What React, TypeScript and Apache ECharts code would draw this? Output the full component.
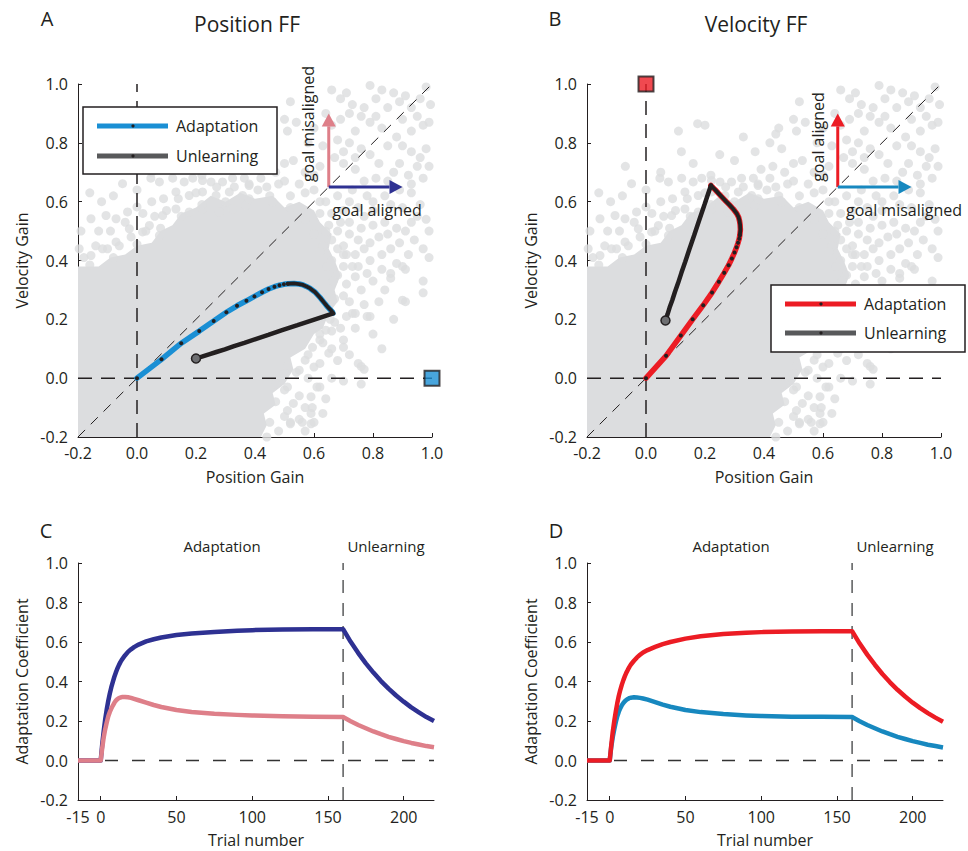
import React, { useEffect, useRef } from "react";
import * as echarts from "echarts";

const FONT = '"Open Sans", sans-serif';
const INK = "#231f20";
const CLOUD = "#dcdddf";

// ---------- data ----------
const gainTicks = [-0.2, 0, 0.2, 0.4, 0.6, 0.8, 1.0];
const coefTicks = [-0.2, 0, 0.2, 0.4, 0.6, 0.8, 1.0];
const trialTicks = [-15, 0, 50, 100, 150, 200];

const trials = [-15, 0, 1, 2, 3, 4, 5, 6, 7, 8, 9, 10, 11, 12, 13, 14, 16, 18, 20, 22, 25, 30, 35, 40, 50, 60, 75, 90, 100, 120, 140, 160, 165, 170, 175, 180, 185, 190, 195, 200, 205, 210, 215, 220];

// Position FF (panel C): goal-aligned (position gain) and goal-misaligned (velocity gain)
const posFFAligned = [0, 0, 0.083, 0.15, 0.211, 0.26, 0.303, 0.339, 0.371, 0.398, 0.424, 0.446, 0.466, 0.483, 0.498, 0.511, 0.532, 0.55, 0.563, 0.574, 0.587, 0.603, 0.614, 0.623, 0.635, 0.643, 0.651, 0.657, 0.66, 0.663, 0.664, 0.665, 0.601, 0.544, 0.492, 0.445, 0.402, 0.364, 0.329, 0.298, 0.269, 0.244, 0.22, 0.2];
const posFFMisaligned = [0, 0, 0.064, 0.119, 0.16, 0.194, 0.224, 0.246, 0.263, 0.278, 0.292, 0.303, 0.311, 0.316, 0.319, 0.321, 0.322, 0.32, 0.317, 0.312, 0.305, 0.293, 0.281, 0.271, 0.256, 0.246, 0.237, 0.231, 0.228, 0.224, 0.221, 0.22, 0.199, 0.18, 0.163, 0.147, 0.133, 0.12, 0.109, 0.098, 0.089, 0.081, 0.073, 0.067];

// Velocity FF (panel D): goal-aligned (velocity gain) and goal-misaligned (position gain)
const velFFAligned = [0, 0, 0.076, 0.145, 0.2, 0.248, 0.291, 0.328, 0.358, 0.384, 0.407, 0.427, 0.445, 0.46, 0.474, 0.486, 0.505, 0.522, 0.535, 0.547, 0.559, 0.575, 0.589, 0.6, 0.617, 0.629, 0.64, 0.647, 0.65, 0.653, 0.654, 0.655, 0.592, 0.536, 0.485, 0.438, 0.396, 0.358, 0.324, 0.293, 0.265, 0.24, 0.217, 0.196];
const velFFMisaligned = [0, 0, 0.068, 0.118, 0.158, 0.194, 0.224, 0.247, 0.265, 0.28, 0.291, 0.3, 0.307, 0.312, 0.316, 0.318, 0.32, 0.319, 0.317, 0.314, 0.308, 0.296, 0.283, 0.272, 0.256, 0.245, 0.235, 0.228, 0.225, 0.222, 0.221, 0.22, 0.199, 0.18, 0.163, 0.147, 0.133, 0.12, 0.109, 0.098, 0.089, 0.08, 0.073, 0.066];

const adaptEnd = 160;
const dottedUntil = 14;

// dense core of the individual-subject cloud (position gain, velocity gain)
const cloudCore = [
  [-0.2, -0.2], [0.42, -0.2], [0.44, -0.16], [0.43, -0.12], [0.47, -0.09], [0.46, -0.05], [0.5, -0.02], [0.53, 0.03],
  [0.52, 0.07], [0.57, 0.1], [0.6, 0.15], [0.63, 0.17], [0.65, 0.22], [0.68, 0.26], [0.67, 0.3], [0.69, 0.35],
  [0.67, 0.4], [0.65, 0.44], [0.66, 0.49], [0.62, 0.53], [0.6, 0.57], [0.55, 0.6], [0.5, 0.58], [0.46, 0.62],
  [0.4, 0.61], [0.35, 0.63], [0.3, 0.6], [0.25, 0.62], [0.2, 0.58], [0.15, 0.56], [0.12, 0.52], [0.08, 0.5],
  [0.05, 0.46], [0.0, 0.45], [-0.04, 0.42], [-0.09, 0.41], [-0.13, 0.38], [-0.2, 0.38],
];

// individual subjects outside the dense core
const cloudPoints = [
  [0.66, 0.98], [0.69, 0.95], [0.79, 0.995], [0.83, 0.98], [0.98, 0.99], [0.995, 0.93], [0.97, 0.86], [0.93, 0.92],
  [0.95, 0.89], [0.89, 0.94], [0.85, 0.92], [0.77, 0.92], [0.76, 0.89], [0.79, 0.87], [0.83, 0.85], [0.74, 0.84],
  [0.69, 0.88], [0.66, 0.86], [0.68, 0.81], [0.72, 0.8], [0.76, 0.78], [0.79, 0.76], [0.85, 0.79], [0.88, 0.82],
  [0.93, 0.84], [0.98, 0.78], [0.96, 0.75], [0.93, 0.77], [0.89, 0.73], [0.87, 0.7], [0.92, 0.69], [0.97, 0.68],
  [0.85, 0.67], [0.81, 0.68], [0.77, 0.67], [0.74, 0.71], [0.7, 0.73], [0.67, 0.75], [0.62, 0.72], [0.6, 0.69],
  [0.57, 0.7], [0.51, 0.84], [0.5, 0.88], [0.54, 0.87], [0.52, 0.94], [0.44, 0.83], [0.46, 0.78], [0.5, 0.73],
  [0.53, 0.74], [0.43, 0.72],
  [0.68, 0.62], [0.72, 0.6], [0.78, 0.62], [0.93, 0.63], [0.96, 0.59], [0.98, 0.54], [0.93, 0.53], [0.88, 0.51],
  [0.85, 0.49], [0.8, 0.52], [0.76, 0.51], [0.72, 0.49], [0.69, 0.53], [0.79, 0.46], [0.89, 0.46], [0.94, 0.47],
  [0.97, 0.44], [0.77, 0.44], [0.74, 0.42], [0.83, 0.42], [0.86, 0.44], [0.7, 0.45], [0.66, 0.47], [0.79, 0.4],
  [0.73, 0.38], [0.71, 0.42], [0.77, 0.55], [0.8, 0.57], [0.86, 0.59], [0.73, 0.64], [0.99, 0.41], [0.97, 0.33],
  [0.97, 0.29], [0.91, 0.37], [0.91, 0.26], [0.86, 0.34], [0.84, 0.3], [0.79, 0.21], [0.83, 0.1], [0.76, 0.04],
  [0.76, -0.02], [0.73, 0.22], [0.7, 0.13], [0.66, 0.16], [0.63, 0.12], [0.65, 0.085], [0.62, -0.03], [0.59, -0.12],
  [0.56, -0.15], [0.6, -0.15], [0.52, -0.15], [0.51, 0.04], [0.44, -0.2], [0.86, 0.356], [0.9, 0.38], [0.9, 0.265],
  [0.78, 0.21], [0.74, 0.22], [0.7, 0.105], [0.75, 0.05], [0.77, 0.03], [0.67, 0.19], [0.64, 0.163], [0.62, 0.13],
  [0.595, 0.105], [0.6, 0.038], [0.61, -0.03], [0.59, -0.063], [0.57, -0.1], [0.594, -0.1], [0.53, -0.086], [0.51, -0.11],
  [0.55, -0.14], [0.52, -0.155], [0.59, -0.155], [0.5, 0.016], [0.55, 0.027], [0.57, 0.061], [0.51, -0.03], [0.47, -0.02],
  [0.74, 0.345], [0.76, 0.3], [0.7, 0.28], [0.78, 0.356],
  [-0.049, 0.661], [0.047, 0.68], [0.076, 0.667], [0.121, 0.68], [0.16, 0.667], [0.189, 0.68], [0.222, 0.672], [0.251, 0.667],
  [0.29, 0.667], [0.324, 0.68], [0.364, 0.68], [0.38, 0.655], [0.132, 0.633], [0.177, 0.621], [0.222, 0.633], [0.268, 0.621],
  [0.313, 0.633], [0.358, 0.621], [0.09, 0.61], [0.05, 0.6], [0.0, 0.582], [-0.032, 0.565], [-0.071, 0.542], [-0.156, 0.542],
  [-0.105, 0.553], [0.087, 0.553], [0.132, 0.575], [0.177, 0.565], [0.222, 0.575], [0.279, 0.565], [0.324, 0.575], [0.369, 0.587],
  [0.019, 0.497], [-0.026, 0.508], [0.042, 0.519], [0.076, 0.485], [-0.196, 0.44], [-0.156, 0.417], [-0.117, 0.44], [-0.071, 0.463],
  [0.41, 0.64], [0.45, 0.62], [0.48, 0.66], [0.42, 0.68], [0.47, 0.7], [0.55, 0.66], [0.6, 0.64], [0.64, 0.6],
  [0.62, 0.56], [0.65, 0.52], [0.63, 0.45], [0.66, 0.4], [0.68, 0.35],
  [0.45, -0.15], [0.47, -0.08], [0.5, -0.04], [0.54, 0.02], [0.58, 0.08], [0.62, 0.15], [0.655, 0.2], [0.67, 0.27],
  [0.665, 0.33], [0.645, 0.38], [0.62, 0.43], [0.6, 0.49], [0.57, 0.54], [0.52, 0.58], [0.46, 0.6], [0.38, 0.61],
  [0.3, 0.6], [0.22, 0.59], [0.15, 0.55], [0.08, 0.51], [0.0, 0.455], [-0.08, 0.41], [-0.16, 0.385],
  [0.71, 0.97], [0.73, 0.93], [0.81, 0.95], [0.87, 0.97], [0.91, 0.96], [0.96, 0.95], [0.99, 0.87], [0.9, 0.88],
  [0.81, 0.89], [0.72, 0.9], [0.64, 0.9], [0.6, 0.85], [0.58, 0.8], [0.63, 0.79], [0.7, 0.77], [0.74, 0.75],
  [0.82, 0.73], [0.9, 0.79], [0.95, 0.72], [0.99, 0.72], [0.93, 0.66], [0.89, 0.64], [0.84, 0.62], [0.8, 0.6],
  [0.75, 0.58], [0.7, 0.57], [0.66, 0.56], [0.9, 0.58], [0.95, 0.55], [0.99, 0.5], [0.91, 0.5], [0.84, 0.53],
  [0.82, 0.48], [0.75, 0.47], [0.72, 0.53], [0.68, 0.5], [0.92, 0.42], [0.88, 0.39], [0.83, 0.37], [0.8, 0.33],
  [0.75, 0.38], [0.71, 0.32], [0.72, 0.26], [0.77, 0.25], [0.82, 0.26], [0.87, 0.2], [0.8, 0.15], [0.74, 0.17],
  [0.72, 0.08], [0.68, 0.06], [0.66, 0.0], [0.7, -0.01], [0.64, -0.07], [0.63, -0.12], [0.57, -0.18], [0.48, -0.18],
  [0.5, -0.13], [0.55, -0.06], [0.58, 0.0], [0.62, 0.05], [0.66, 0.1], [0.69, 0.17], [0.71, 0.21], [0.7, 0.38],
  [0.7, 0.42], [0.68, 0.44], [0.64, 0.5], [0.62, 0.6], [0.57, 0.63], [0.52, 0.62], [0.5, 0.67], [0.44, 0.65],
  [0.38, 0.66], [0.33, 0.65], [0.27, 0.65], [0.2, 0.63], [0.14, 0.61], [0.1, 0.57], [0.06, 0.55], [0.03, 0.5],
  [-0.02, 0.48], [-0.06, 0.45], [-0.1, 0.44], [-0.14, 0.45], [-0.18, 0.41], [-0.19, 0.5], [-0.13, 0.5], [-0.09, 0.5],
  [-0.04, 0.53], [0.02, 0.56], [-0.12, 0.6], [-0.16, 0.63], [-0.08, 0.62], [0.0, 0.64],
  [-0.07, 0.72], [0.16, 0.73], [0.175, 0.865], [0.2, 0.86], [0.11, 0.84], [0.33, 0.82], [0.12, 0.77], [0.37, 0.77],
  [0.42, 0.8], [0.45, 0.85], [0.39, 0.71], [0.3, 0.74], [0.25, 0.76], [0.05, 0.7], [0.22, 0.69],
];

const arrowOrigin = [0.65, 0.65];
const arrowLength = 0.25;
const targetA = [1.0, 0.0];
const targetB = [0.0, 1.0];

// ---------- colors ----------
const NAVY = "#2e3192";
const PINK = "#de7f89";
const BLUE_A = "#1a8fd4";
const BLUE_D = "#1788bf";
const RED = "#ec1c24";
const UNLEARN = "#231f20";

// ---------- helpers ----------
const fmt1 = (v: number) => (Math.abs(v) < 1e-9 ? 0 : v).toFixed(1);

function gainAxis(gridIndex: number, name: string, isX: boolean) {
  return {
    type: "value",
    gridIndex,
    min: -0.2,
    max: 1.0,
    interval: 0.2,
    name,
    nameLocation: "middle",
    nameGap: isX ? 32 : 48,
    nameTextStyle: { fontFamily: FONT, fontSize: 16, color: INK },
    axisLine: { show: true, onZero: false, lineStyle: { color: INK, width: 1 } },
    axisTick: { show: true, inside: true, length: 4, lineStyle: { color: INK } },
    axisLabel: {
      fontFamily: FONT, fontSize: 16, color: INK, margin: isX ? 8 : 10,
      formatter: fmt1, customValues: gainTicks,
    },
    splitLine: { show: false },
  };
}

function trialAxis(gridIndex: number) {
  return {
    type: "value",
    gridIndex,
    min: -15,
    max: 220,
    interval: 5,
    name: "Trial number",
    nameLocation: "middle",
    nameGap: 32,
    nameTextStyle: { fontFamily: FONT, fontSize: 16, color: INK },
    axisLine: { show: true, onZero: false, lineStyle: { color: INK, width: 1 } },
    axisTick: { show: true, inside: true, length: 4, lineStyle: { color: INK }, customValues: trialTicks },
    axisLabel: { fontFamily: FONT, fontSize: 16, color: INK, margin: 9, customValues: trialTicks },
    splitLine: { show: false },
  };
}

function coefAxis(gridIndex: number) {
  return {
    type: "value",
    gridIndex,
    min: -0.2,
    max: 1.0,
    interval: 0.2,
    name: "Adaptation Coefficient",
    nameLocation: "middle",
    nameGap: 48,
    nameTextStyle: { fontFamily: FONT, fontSize: 16, color: INK },
    axisLine: { show: true, onZero: false, lineStyle: { color: INK, width: 1 } },
    axisTick: { show: true, inside: true, length: 4, lineStyle: { color: INK } },
    axisLabel: { fontFamily: FONT, fontSize: 16, color: INK, margin: 10, formatter: fmt1, customValues: coefTicks },
    splitLine: { show: false },
  };
}

function dashed(idx: number, data: number[][], color: string, width: number, dash: number[], z = 3) {
  return {
    type: "line", xAxisIndex: idx, yAxisIndex: idx, data, symbol: "none", silent: true, z,
    lineStyle: { color, width, type: dash },
  };
}

function cloudSeries(idx: number) {
  return [
    {
      type: "custom", name: "cloud core", xAxisIndex: idx, yAxisIndex: idx, silent: true, z: 2,
      data: [[0, 0]],
      renderItem: (_p: any, api: any) => ({
        type: "polygon",
        shape: { points: cloudCore.map((p) => api.coord(p)) },
        style: { fill: CLOUD },
      }),
    },
    {
      type: "scatter", name: "subjects", xAxisIndex: idx, yAxisIndex: idx, silent: true, z: 2,
      symbolSize: 9, data: cloudPoints, itemStyle: { color: CLOUD },
    },
  ];
}

function trajectorySeries(idx: number, xs: number[], ys: number[], color: string) {
  const adapt: any[] = [];
  const dense: number[][] = [];
  const unlearn: any[] = [];
  trials.forEach((t, i) => {
    const v = [xs[i], ys[i]];
    if (t >= 0 && t <= adaptEnd) adapt.push({ value: v, symbol: t <= dottedUntil ? "circle" : "none" });
    if (t >= dottedUntil && t <= adaptEnd) dense.push(v);
    if (t >= adaptEnd) unlearn.push({ value: v, symbol: "none" });
  });
  const last = unlearn[unlearn.length - 1];
  last.symbol = "circle";
  last.symbolSize = 9;
  last.itemStyle = { color: "#6d6e71", borderColor: INK, borderWidth: 1.5 };
  return [
    {
      type: "line", name: "Adaptation", xAxisIndex: idx, yAxisIndex: idx, data: adapt, z: 5,
      showAllSymbol: true, symbolSize: 4, itemStyle: { color: INK },
      lineStyle: { color, width: 5.5, cap: "round" },
    },
    {
      type: "line", name: "Adaptation (late)", xAxisIndex: idx, yAxisIndex: idx, data: dense, z: 6,
      symbol: "none", lineStyle: { color: INK, width: 3.8, cap: "round", join: "round" },
    },
    {
      type: "line", name: "Unlearning", xAxisIndex: idx, yAxisIndex: idx, data: unlearn, z: 6,
      symbolSize: 9, lineStyle: { color: UNLEARN, width: 4.5, cap: "round" },
    },
  ];
}

function arrowSeries(idx: number, upColor: string, rightColor: string) {
  return {
    type: "custom", name: "arrows", xAxisIndex: idx, yAxisIndex: idx, silent: true, z: 7,
    data: [[arrowOrigin[0], arrowOrigin[1]]],
    renderItem: (_p: any, api: any) => {
      const o = api.coord(arrowOrigin);
      const up = api.coord([arrowOrigin[0], arrowOrigin[1] + arrowLength]);
      const rt = api.coord([arrowOrigin[0] + arrowLength, arrowOrigin[1]]);
      const head = 13;
      const hw = 7;
      return {
        type: "group",
        children: [
          { type: "line", shape: { x1: o[0], y1: o[1], x2: up[0], y2: up[1] + head }, style: { stroke: upColor, lineWidth: 3 } },
          { type: "polygon", shape: { points: [[up[0], up[1]], [up[0] - hw, up[1] + head], [up[0] + hw, up[1] + head]] }, style: { fill: upColor } },
          { type: "line", shape: { x1: o[0], y1: o[1], x2: rt[0] - head, y2: rt[1] }, style: { stroke: rightColor, lineWidth: 3 } },
          { type: "polygon", shape: { points: [[rt[0], rt[1]], [rt[0] - head, rt[1] - hw], [rt[0] - head, rt[1] + hw]] }, style: { fill: rightColor } },
        ],
      };
    },
  };
}

function targetSeries(idx: number, pt: number[], color: string) {
  return {
    type: "scatter", name: "target", xAxisIndex: idx, yAxisIndex: idx, silent: true, z: 8, clip: false,
    symbol: "rect", symbolSize: 15, data: [pt],
    itemStyle: { color, borderColor: INK, borderWidth: 2 },
  };
}

function curveSeries(idx: number, values: number[], color: string, name: string, z: number) {
  return {
    type: "line", name, xAxisIndex: idx, yAxisIndex: idx, z,
    data: trials.map((t, i) => [t, values[i]]),
    symbol: "none", lineStyle: { color, width: 4.5, join: "round" },
  };
}

function txt(x: number, y: number, text: string, size: number, extra: any = {}) {
  return {
    type: "text", x, y, z: 100, silent: true,
    style: { text, fontFamily: FONT, fontSize: size, fill: INK, align: "center", verticalAlign: "middle" },
    ...extra,
  };
}

function legendBox(x: number, y: number, color: string, gap: number) {
  const y1 = y + 19;
  const y2 = y + 19 + gap;
  return [
    { type: "rect", z: 100, shape: { x, y, width: 194, height: 67 }, style: { fill: "#fff", stroke: INK, lineWidth: 1.5 } },
    { type: "line", z: 101, shape: { x1: x + 14, y1, x2: x + 85, y2: y1 }, style: { stroke: color, lineWidth: 5 } },
    { type: "circle", z: 102, shape: { cx: x + 50, cy: y1, r: 1.6 }, style: { fill: INK } },
    { type: "text", z: 102, x: x + 93, y: y1, style: { text: "Adaptation", fontFamily: FONT, fontSize: 16, fill: INK, verticalAlign: "middle" } },
    { type: "line", z: 101, shape: { x1: x + 14, y1: y2, x2: x + 85, y2 }, style: { stroke: "#58595b", lineWidth: 5 } },
    { type: "circle", z: 102, shape: { cx: x + 50, cy: y2, r: 1.6 }, style: { fill: INK } },
    { type: "text", z: 102, x: x + 93, y: y2, style: { text: "Unlearning", fontFamily: FONT, fontSize: 16, fill: INK, verticalAlign: "middle" } },
  ];
}

const option: any = {
  animation: false,
  backgroundColor: "#ffffff",
  textStyle: { fontFamily: FONT },
  grid: [
    { left: 78, top: 84, width: 354, height: 353 },
    { left: 587, top: 84, width: 354, height: 353 },
    { left: 78, top: 563, width: 356, height: 237 },
    { left: 587, top: 563, width: 356, height: 237 },
  ],
  xAxis: [gainAxis(0, "Position Gain", true), gainAxis(1, "Position Gain", true), trialAxis(2), trialAxis(3)],
  yAxis: [gainAxis(0, "Velocity Gain", false), gainAxis(1, "Velocity Gain", false), coefAxis(2), coefAxis(3)],
  series: [
    // Panel A
    ...cloudSeries(0),
    dashed(0, [[-0.2, -0.2], [1, 1]], INK, 1, [10, 8]),
    dashed(0, [[-0.2, 0], [1, 0]], INK, 1.5, [14, 9]),
    dashed(0, [[0, -0.2], [0, 1]], INK, 1.5, [14, 9]),
    ...trajectorySeries(0, posFFAligned, posFFMisaligned, BLUE_A),
    arrowSeries(0, PINK, NAVY),
    targetSeries(0, targetA, BLUE_A),
    // Panel B
    ...cloudSeries(1),
    dashed(1, [[-0.2, -0.2], [1, 1]], INK, 1, [10, 8]),
    dashed(1, [[-0.2, 0], [1, 0]], INK, 1.5, [14, 9]),
    dashed(1, [[0, -0.2], [0, 1]], INK, 1.5, [14, 9]),
    ...trajectorySeries(1, velFFMisaligned, velFFAligned, RED),
    arrowSeries(1, RED, BLUE_D),
    targetSeries(1, targetB, RED),
    // Panel C
    dashed(2, [[-15, 0], [220, 0]], "#333333", 1.3, [13, 14], 1),
    dashed(2, [[160, -0.2], [160, 1.0]], "#58595b", 1.5, [13, 10], 1),
    curveSeries(2, posFFAligned, NAVY, "Goal aligned", 4),
    curveSeries(2, posFFMisaligned, PINK, "Goal misaligned", 5),
    // Panel D
    dashed(3, [[-15, 0], [220, 0]], "#333333", 1.3, [13, 14], 1),
    dashed(3, [[160, -0.2], [160, 1.0]], "#58595b", 1.5, [13, 10], 1),
    curveSeries(3, velFFMisaligned, BLUE_D, "Goal misaligned", 4),
    curveSeries(3, velFFAligned, RED, "Goal aligned", 5),
  ],
  graphic: [
    txt(47, 18, "A", 20),
    txt(247, 24, "Position FF", 21),
    txt(555, 18, "B", 20),
    txt(756, 24, "Velocity FF", 21),
    txt(46, 530, "C", 20),
    txt(556, 530, "D", 20),
    txt(222, 546, "Adaptation", 15),
    txt(386, 546, "Unlearning", 15),
    txt(731, 546, "Adaptation", 15),
    txt(895, 546, "Unlearning", 15),
    txt(308, 124, "goal misaligned", 16, { rotation: Math.PI / 2 }),
    txt(377, 210, "goal aligned", 16),
    txt(818, 137, "goal aligned", 16, { rotation: Math.PI / 2 }),
    txt(904, 210, "goal misaligned", 16),
    ...legendBox(83, 107, BLUE_A, 30),
    ...legendBox(771, 285, RED, 29),
  ],
};

export default function App() {
  const ref = useRef<HTMLDivElement>(null);
  useEffect(() => {
    if (!ref.current) return;
    const chart = echarts.init(ref.current, null, { renderer: "svg" });
    chart.setOption(option);
    return () => chart.dispose();
  }, []);
  return <div ref={ref} style={{ position: "fixed", left: 0, top: 0, width: 968, height: 851, background: "#fff" }} />;
}
